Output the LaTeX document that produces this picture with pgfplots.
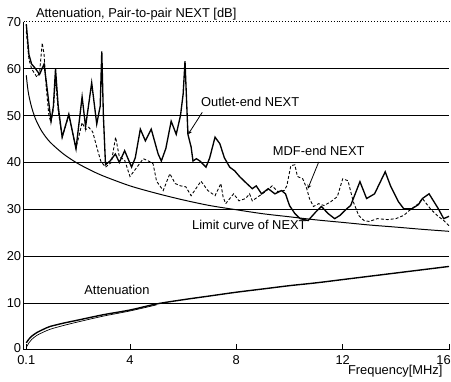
\documentclass[border=0pt]{standalone}
\usepackage{fontspec}
\setmainfont{Liberation Sans}
\usepackage{pgfplots}
\pgfplotsset{compat=1.18}
\begin{document}
\newcommand\lab{\fontsize{13}{15}\selectfont}
\begin{tikzpicture}
\begin{axis}[
  scale only axis, width=428bp, height=330bp,
  xmin=0, xmax=16, ymin=0, ymax=70,
  axis x line=bottom, axis y line=left,
  axis line style={-, line width=1.1pt},
  xtick={0.1,4,8,12,16}, xticklabels={0.1,4,8,12,{\kern-11bp 16}},
  ytick={0,10,20,30,40,50,60}, yticklabels={\raisebox{4bp}{0},10,20,30,40,50,60},
  extra y ticks={70}, extra y tick labels={70},
  extra y tick style={major grid style={dotted, line width=0.8pt, black}},
  ymajorgrids, major grid style={black, line width=0.9pt},
  tick align=inside, major tick length=6bp,
  ytick style={draw=none},
  xtick style={black, line width=0.8pt},
  tick label style={font=\lab, black},
  xticklabel style={yshift=-2bp},
  yticklabel style={xshift=1bp},
  clip=false,
]
% Outlet-end NEXT
\addplot[black, line width=1.35pt] coordinates {
(0.1,69.5) (0.2,63) (0.3,61) (0.45,60) (0.6,58.8) (0.77,61) (0.9,55) (1.03,48.8) (1.12,52) (1.2,60) (1.3,52) (1.45,45.4) (1.7,50.3) (1.97,42.9) (2.2,54) (2.33,47.6) (2.56,57) (2.75,48.2) (2.88,52) (2.94,63.7) (3.0,50) (3.08,39.5) (3.25,40.3) (3.45,41.8) (3.6,40) (3.8,42.5) (4.06,39) (4.2,41) (4.39,47.1) (4.58,44.6) (4.8,47.1) (5.06,41.8) (5.18,40.3) (5.35,43) (5.55,48.8) (5.74,46) (5.9,50) (6.0,54.6) (6.07,61.6) (6.18,46) (6.3,43.3) (6.37,40.3) (6.5,40.8) (6.63,40.3) (6.86,39) (7.0,41) (7.2,45.4) (7.38,44) (7.55,41) (7.75,39) (7.94,38.2) (8.12,37) (8.3,36) (8.6,34.4) (8.75,35) (8.95,33.3) (9.2,34.4) (9.45,33.3) (9.7,34) (9.85,33.3) (10.0,30.8) (10.2,29.1) (10.4,28) (10.7,27.6) (11.0,29.5) (11.2,30.6) (11.45,29.1) (11.7,28) (11.9,28.7) (12.15,30.1) (12.3,30.8) (12.65,35.9) (12.9,32.3) (13.2,33.3) (13.6,38) (13.8,35) (14.1,31.6) (14.3,30.1) (14.6,30.1) (14.85,31) (15.0,32.3) (15.25,33.3) (15.6,30.1) (15.8,28) (16,28.5)
};
% MDF-end NEXT
\addplot[black, line width=0.9pt, dash pattern=on 3pt off 2pt] coordinates {
(0.1,68) (0.2,62) (0.3,60) (0.5,58.2) (0.6,59.2) (0.7,65.5) (0.77,63) (0.85,56) (0.95,50) (1.03,48.5) (1.12,51.5) (1.2,58) (1.3,51) (1.45,45.4) (1.7,50) (1.97,43) (2.2,48.5) (2.33,47) (2.45,47.5) (2.6,46.5) (2.75,43.3) (2.9,40.3) (3.08,39) (3.3,40) (3.46,45.4) (3.6,41.2) (3.8,40.5) (4.0,37) (4.2,38.5) (4.5,40.8) (4.7,40.3) (4.87,39.7) (5.0,36) (5.25,34) (5.5,37.6) (5.7,35.5) (5.9,35) (6.1,34.8) (6.3,32.9) (6.67,36) (6.93,34) (7.2,32.9) (7.42,35.5) (7.5,32.7) (7.6,31.2) (7.9,33.3) (8.1,31.8) (8.35,32.3) (8.5,33.3) (8.6,31.8) (8.9,33) (9.1,33.8) (9.35,35) (9.55,33.8) (9.8,34) (9.9,35) (10.05,39.3) (10.2,39.5) (10.3,37) (10.5,36.5) (10.65,34.4) (10.75,32.3) (10.9,30.6) (11.1,31.2) (11.3,30.8) (11.55,31.6) (11.8,32.7) (12.0,36.5) (12.2,36.1) (12.4,31.6) (12.6,28.7) (12.8,27.6) (13.0,27.4) (13.3,28) (13.7,27.8) (14.0,28) (14.3,28.7) (14.5,29.7) (14.85,31.2) (15.0,32.3) (15.3,30.1) (15.55,28.7) (15.8,27.6) (16,26.5)
};
% Limit curve of NEXT
\addplot[black, line width=1pt, smooth] coordinates {
(0.1,58.6) (0.15,56.0) (0.2,54.2) (0.3,51.8) (0.4,50.0) (0.5,48.6) (0.7,46.5) (1,44.3) (1.5,41.8) (2,39.9) (2.5,38.4) (3,37.1) (4,35.0) (5,33.4) (6,32.0) (7,30.8) (8,29.9) (9,29.05) (10,28.4) (11,27.74) (12,27.2) (13,26.65) (14,26.2) (15,25.72) (16,25.3)
};
% Attenuation
\addplot[black, line width=1.4pt, smooth] coordinates {
(0.1,1.5) (0.2,2.3) (0.3,2.9) (0.5,3.7) (0.75,4.4) (1,5.0) (1.5,5.7) (2,6.3) (3,7.5) (4,8.5) (5,9.8) (6,10.7) (7,11.5) (8,12.3) (9,13) (10,13.7) (11,14.3) (12,15) (13,15.7) (14,16.4) (15,17.1) (16,17.8)
};
\addplot[black, line width=0.7pt, smooth] coordinates {
(0.1,0.5) (0.2,1.5) (0.3,2.2) (0.5,3.1) (0.75,3.8) (1,4.4) (1.5,5.2) (2,5.9) (3,7.2) (4,8.3) (5,9.6)
};
\node[font=\lab] at (axis cs:8.52,52.9) {Outlet-end NEXT};
\draw[black, line width=0.8pt, -stealth] (axis cs:6.72,50.7) -- (axis cs:6.19,46.0);
\node[font=\lab] at (axis cs:11.1,42.4) {MDF-end NEXT};
\draw[black, line width=0.8pt, -stealth] (axis cs:11.1,40.1) -- (axis cs:10.69,34.4);
\node[font=\lab] at (axis cs:8.49,26.7) {Limit curve of NEXT};
\node[font=\lab] at (axis cs:3.51,12.9) {Attenuation};
\node[font=\lab, anchor=base west] at (axis cs:0,70) [xshift=9bp, yshift=4bp] {Attenuation, Pair-to-pair NEXT [dB]};
\node[font=\lab] at (axis cs:13.98,-4.6) {Frequency[MHz]};
\end{axis}
\pgfresetboundingbox
\useasboundingbox (-21bp,-32bp) rectangle (430bp,352bp);
\end{tikzpicture}
\end{document}
